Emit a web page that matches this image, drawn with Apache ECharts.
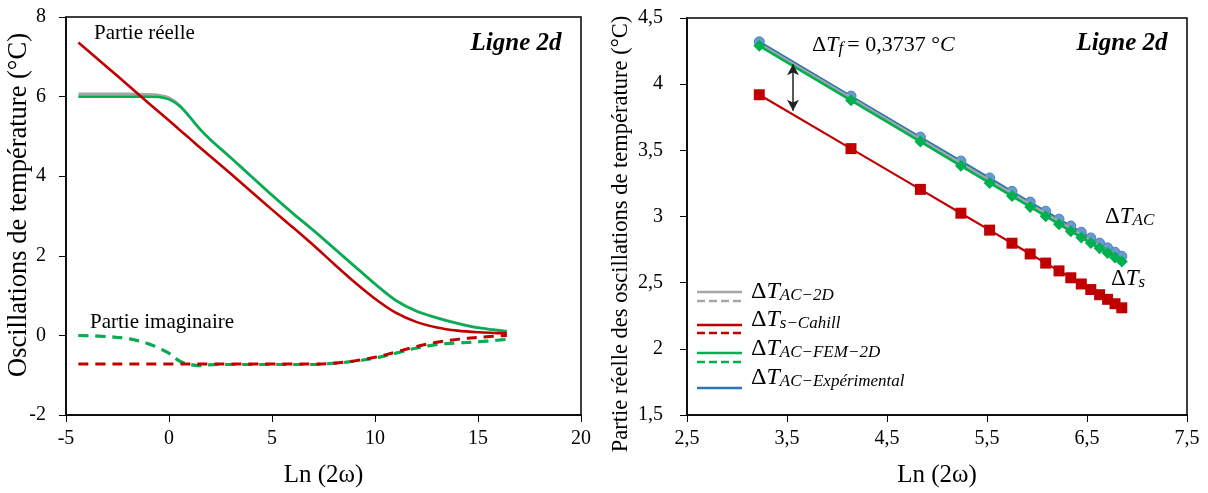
<!DOCTYPE html>
<html><head><meta charset="utf-8">
<script src="https://cdn.jsdelivr.net/npm/echarts@6/dist/echarts.min.js"></script>
<style>html,body{margin:0;padding:0;background:#fff}#c{width:1208px;height:493px}</style>
</head><body><div id="c"></div><script>
// ---------- Left panel data ----------
const lnX      = [-4.4, -3, -2, -1, -0.5, 0, 0.5, 1, 1.5, 2, 3, 4, 5, 6, 7, 8, 9, 10, 11, 12, 13, 14, 15, 16.4];
const redRe    = [7.36, 6.74, 6.29, 5.84, 5.62, 5.40, 5.17, 4.95, 4.72, 4.50, 4.06, 3.61, 3.16, 2.72, 2.27, 1.80, 1.34, 0.92, 0.57, 0.34, 0.20, 0.12, 0.08, 0.05];
const greenRe  = [6.00, 6.00, 6.00, 6.00, 5.99, 5.93, 5.77, 5.49, 5.18, 4.92, 4.46, 3.99, 3.52, 3.07, 2.64, 2.19, 1.74, 1.29, 0.88, 0.61, 0.44, 0.30, 0.19, 0.10];
const grayRe   = [6.07, 6.07, 6.07, 6.06, 6.04, 5.97, 5.79, 5.50, 5.19, 4.93, 4.47, 4.00, 3.53, 3.08, 2.65, 2.20, 1.75, 1.30, 0.89, 0.62, 0.45, 0.31, 0.20, 0.11];
const redIm    = [-0.72, -0.72, -0.72, -0.72, -0.72, -0.72, -0.72, -0.72, -0.72, -0.72, -0.72, -0.72, -0.72, -0.72, -0.72, -0.70, -0.64, -0.55, -0.42, -0.28, -0.17, -0.10, -0.05, 0.00];
const greenIm  = [0.00, -0.03, -0.08, -0.21, -0.32, -0.45, -0.64, -0.73, -0.76, -0.74, -0.73, -0.73, -0.73, -0.73, -0.73, -0.70, -0.65, -0.57, -0.45, -0.32, -0.23, -0.19, -0.16, -0.10];
const grayIm   = [0.00, -0.03, -0.08, -0.21, -0.32, -0.45, -0.64, -0.73, -0.76, -0.74, -0.73, -0.73, -0.73, -0.73, -0.73, -0.70, -0.65, -0.57, -0.45, -0.32, -0.23, -0.19, -0.16, -0.10];

// ---------- Right panel data ----------
const ln2w      = [3.223, 4.140, 4.834, 5.239, 5.526, 5.750, 5.932, 6.087, 6.220, 6.338, 6.443, 6.538, 6.626, 6.706, 6.780, 6.848];
const tsCahill  = [3.920, 3.513, 3.205, 3.025, 2.897, 2.798, 2.717, 2.648, 2.589, 2.537, 2.490, 2.448, 2.409, 2.374, 2.341, 2.310];
const tacFem    = [4.290, 3.878, 3.566, 3.383, 3.254, 3.154, 3.072, 3.002, 2.942, 2.889, 2.842, 2.799, 2.760, 2.724, 2.690, 2.660];
const tacExp    = [4.320, 3.910, 3.600, 3.419, 3.291, 3.190, 3.109, 3.040, 2.980, 2.928, 2.881, 2.838, 2.799, 2.763, 2.730, 2.700];
const tac2D     = [4.305, 3.894, 3.583, 3.401, 3.272, 3.172, 3.090, 3.021, 2.961, 2.908, 2.861, 2.818, 2.779, 2.743, 2.710, 2.680];
const arrowX    = 3.56;
const arrowY    = [4.15, 3.80];

const legendSubs = ['AC−2D', 's−Cahill', 'AC−FEM−2D', 'AC−Expérimental'];

const F = 'Liberation Serif';
const BLACK = '#000';
const RED = '#C00000', GREEN = '#00B050', GRAY = '#A6A6A6', BLUE = '#2E75B6';

const pairs = (xs, ys) => xs.map((x, i) => [x, ys[i]]);

function mathRich(size, sub) {
  return {
    d: {fontFamily: F, fontSize: size, color: BLACK, lineHeight: size + 2, padding: [0, 0, 8, 0]},
    t: {fontFamily: F, fontSize: size, fontStyle: 'italic', color: BLACK, lineHeight: size + 2, padding: [0, 0, 8, 0]},
    n: {fontFamily: F, fontSize: size, color: BLACK, lineHeight: size + 2, padding: [0, 0, 8, 0]},
    s: {fontFamily: F, fontSize: sub, fontStyle: 'italic', color: BLACK, lineHeight: sub + 3}
  };
}

const axisCommon = {
  axisLine: {show: true, onZero: false, lineStyle: {color: BLACK, width: 1.5}},
  axisTick: {show: true, inside: false, length: 7, lineStyle: {color: BLACK, width: 1}},
  splitLine: {show: false},
  axisLabel: {color: BLACK, fontFamily: F, fontSize: 20}
};

const leftLine = (data, color, dashed, z) => ({
  type: 'line', xAxisIndex: 0, yAxisIndex: 0, data, showSymbol: false, smooth: 0.35,
  lineStyle: {color, width: dashed ? 3 : 2.6, type: dashed ? [10, 7] : 'solid'}, z, silent: true
});

const graphic = [];
// axis names (y)
graphic.push({type: 'text', x: 19, y: 205, rotation: Math.PI / 2,
  style: {text: 'Oscillations de température (°C)', font: '26.5px ' + F, fill: BLACK, align: 'center', verticalAlign: 'middle'}});
graphic.push({type: 'text', x: 621, y: 234, rotation: Math.PI / 2,
  style: {text: 'Partie réelle des oscillations de température (°C)', font: '22.5px ' + F, fill: BLACK, align: 'center', verticalAlign: 'middle'}});
// titles
graphic.push({type: 'text', x: 516, y: 44, style: {text: 'Ligne 2d', font: 'italic bold 25px ' + F, fill: BLACK, align: 'center', verticalAlign: 'middle'}});
graphic.push({type: 'text', x: 1122, y: 44, style: {text: 'Ligne 2d', font: 'italic bold 25px ' + F, fill: BLACK, align: 'center', verticalAlign: 'middle'}});
graphic.push({type: 'text', x: 94, y: 33, style: {text: 'Partie réelle', font: '21px ' + F, fill: BLACK, align: 'left', verticalAlign: 'middle'}});
graphic.push({type: 'text', x: 90, y: 322, style: {text: 'Partie imaginaire', font: '21px ' + F, fill: BLACK, align: 'left', verticalAlign: 'middle'}});
// right annotations
graphic.push({type: 'text', x: 812, y: 37, style: {text: '{d|Δ}{t|T}{s|f }{n|= 0,3737 °}{t|C}', rich: mathRich(22, 17)}});
graphic.push({type: 'text', x: 1105, y: 208, style: {text: '{d|Δ}{t|T}{s|AC}', rich: mathRich(23, 17)}});
graphic.push({type: 'text', x: 1111, y: 270, style: {text: '{d|Δ}{t|T}{s|s}', rich: mathRich(23, 17)}});
// legend
const legSw = [
  {c: GRAY, y1: 292, y2: 301},
  {c: RED, y1: 325, y2: 333},
  {c: GREEN, y1: 353, y2: 362},
  {c: BLUE, y1: 388, y2: null}
];
const legTextTop = [283, 311, 340, 369];
legSw.forEach((s, i) => {
  graphic.push({type: 'line', shape: {x1: 697, y1: s.y1, x2: 742, y2: s.y1}, style: {stroke: s.c, lineWidth: 2.6}});
  if (s.y2 !== null) graphic.push({type: 'line', shape: {x1: 697, y1: s.y2, x2: 742, y2: s.y2}, style: {stroke: s.c, lineWidth: 2.6, lineDash: [8, 4]}});
  graphic.push({type: 'text', x: 751, y: legTextTop[i], style: {text: '{d|Δ}{t|T}{s|' + legendSubs[i] + '}', rich: mathRich(24, 17)}});
});

const option = {
  animation: false,
  backgroundColor: '#fff',
  grid: [
    {left: 66, right: 627, top: 17, bottom: 71, show: true, borderColor: BLACK, borderWidth: 1.5},
    {left: 687, right: 21, top: 18, bottom: 71, show: true, borderColor: BLACK, borderWidth: 1.5}
  ],
  xAxis: [
    Object.assign({}, axisCommon, {gridIndex: 0, type: 'value', min: -5, max: 20, interval: 5,
      name: 'Ln (2ω)', nameLocation: 'middle', nameGap: 48, nameTextStyle: {fontFamily: F, fontSize: 25, color: BLACK},
      axisLabel: Object.assign({}, axisCommon.axisLabel, {margin: 14})}),
    Object.assign({}, axisCommon, {gridIndex: 1, type: 'value', min: 2.5, max: 7.5, interval: 1,
      name: 'Ln (2ω)', nameLocation: 'middle', nameGap: 48, nameTextStyle: {fontFamily: F, fontSize: 25, color: BLACK},
      axisLabel: Object.assign({}, axisCommon.axisLabel, {margin: 14, formatter: v => String(v).replace('.', ',')})})
  ],
  yAxis: [
    Object.assign({}, axisCommon, {gridIndex: 0, type: 'value', min: -2, max: 8, interval: 2,
      axisLabel: Object.assign({}, axisCommon.axisLabel, {margin: 20})}),
    Object.assign({}, axisCommon, {gridIndex: 1, type: 'value', min: 1.5, max: 4.5, interval: 0.5,
      axisLabel: Object.assign({}, axisCommon.axisLabel, {margin: 24, formatter: v => String(v).replace('.', ',')})})
  ],
  graphic,
  series: [
    leftLine(pairs(lnX, grayRe), GRAY, false, 2),
    leftLine(pairs(lnX, grayIm), GRAY, true, 2),
    leftLine(pairs(lnX, greenIm), GREEN, true, 3),
    leftLine(pairs(lnX, redIm), RED, true, 4),
    leftLine(pairs(lnX, greenRe), GREEN, false, 3),
    leftLine(pairs(lnX, redRe), RED, false, 4),
    {type: 'line', xAxisIndex: 1, yAxisIndex: 1, data: pairs(ln2w, tacExp), symbol: 'circle', symbolSize: 10,
      itemStyle: {color: '#6A9AD0', borderColor: '#4F81BD', borderWidth: 1}, lineStyle: {color: BLUE, width: 2.2}, z: 2},
    {type: 'line', xAxisIndex: 1, yAxisIndex: 1, data: pairs(ln2w, tac2D), showSymbol: false,
      lineStyle: {color: GRAY, width: 2.6}, z: 3},
    {type: 'line', xAxisIndex: 1, yAxisIndex: 1, data: pairs(ln2w, tacFem), symbol: 'diamond', symbolSize: 12,
      itemStyle: {color: GREEN}, lineStyle: {color: GREEN, width: 2.6}, z: 4},
    {type: 'line', xAxisIndex: 1, yAxisIndex: 1, data: pairs(ln2w, tsCahill), symbol: 'rect', symbolSize: 11,
      itemStyle: {color: RED}, lineStyle: {color: RED, width: 2.2}, z: 5,
      markLine: {silent: true, symbol: ['arrow', 'arrow'], symbolSize: [9, 11], label: {show: false},
        lineStyle: {color: '#222', width: 1.5, type: 'solid'},
        data: [[{coord: [arrowX, arrowY[0]]}, {coord: [arrowX, arrowY[1]]}]]}}
  ]
};
const chart = echarts.init(document.getElementById('c'), null, {renderer: 'canvas'});
chart.setOption(option);
</script></body></html>
